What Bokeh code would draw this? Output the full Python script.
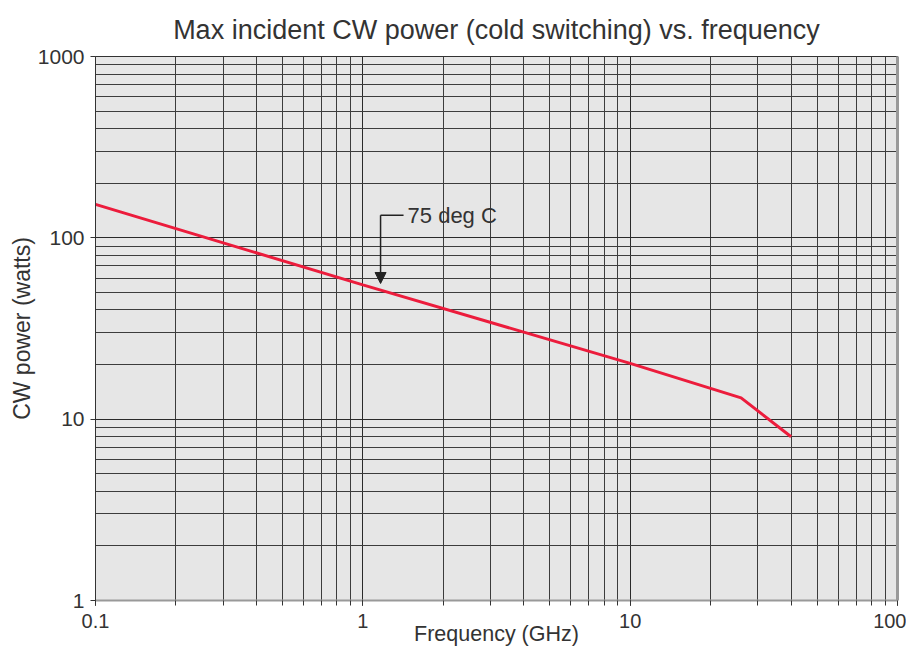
from bokeh.plotting import figure
from bokeh.models import Range1d, Label, Arrow, NormalHead, LogAxis, FixedTicker
from bokeh.embed import file_html
from bokeh.resources import INLINE

# Data
freq_ghz = [0.1, 1, 10, 26, 40]
power_w = [153, 55, 20.3, 13.1, 8.0]

title_text = "Max incident CW power (cold switching) vs. frequency"
x_label = "Frequency (GHz)"
y_label = "CW power (watts)"
annot_text = "75 deg C"

# annotation anchor positions (data units)
arrow_x = 1.165
arrow_top = 133
arrow_tip = 56
annot_line_end = 1.42
annot_text_x = 1.47

FONT = "Liberation Sans"
TXT = "#333333"

p = figure(width=906, height=650, x_axis_type="log", y_axis_type="log",
           x_range=Range1d(0.1, 100), y_range=Range1d(1, 1000),
           output_backend="svg", toolbar_location=None,
           min_border_left=95, min_border_right=9, min_border_top=56, min_border_bottom=50,
           background_fill_color="#e6e6e6", border_fill_color="white",
           title=title_text)

p.title.align = "center"
p.title.vertical_align = "top"
p.title.text_font = FONT
p.title.text_font_size = "27px"
p.title.text_font_style = "normal"
p.title.text_color = TXT
p.title.standoff = 20

p.outline_line_color = "#333333"
p.outline_line_width = 1

# grids
for g in (p.xgrid, p.ygrid):
    g.grid_line_color = "#2a2a2a"
    g.grid_line_width = 1
    g.minor_grid_line_color = "#3c3c3c"
    g.minor_grid_line_width = 1

# x axis
xa = p.xaxis[0]
xa.axis_line_color = "#999999"
xa.axis_line_width = 2
xa.major_tick_line_color = "#333333"
xa.minor_tick_line_color = "#333333"
xa.major_tick_out = 5
xa.major_tick_in = 0
xa.minor_tick_out = 5
xa.minor_tick_in = 0
xa.major_label_standoff = 8
xa.major_label_text_font = FONT
xa.major_label_text_font_size = "20px"
xa.major_label_text_color = TXT
xa.major_label_overrides = {0.1: "0.1", 1: "1", 10: "10", 100: "100"}
xa.axis_label = x_label
xa.axis_label_text_font = FONT
xa.axis_label_text_font_size = "21.5px"
xa.axis_label_text_font_style = "normal"
xa.axis_label_text_color = TXT
xa.axis_label_standoff = -9

# y axis
ya = p.yaxis[0]
ya.axis_line_color = "#333333"
ya.axis_line_width = 1
ya.major_tick_line_color = "#333333"
ya.minor_tick_line_color = None
ya.major_tick_out = 5
ya.major_tick_in = 0
ya.major_label_standoff = 6
ya.major_label_text_font = FONT
ya.major_label_text_font_size = "21px"
ya.major_label_text_color = TXT
ya.major_label_overrides = {1: "1", 10: "10", 100: "100", 1000: "1000"}
ya.axis_label = y_label
ya.axis_label_text_font = FONT
ya.axis_label_text_font_size = "23px"
ya.axis_label_text_font_style = "normal"
ya.axis_label_text_color = TXT
ya.axis_label_standoff = 0

# right border as a gray axis line
ra = LogAxis(ticker=FixedTicker(ticks=[]), axis_line_color="#999999", axis_line_width=3,
             major_tick_line_color=None, minor_tick_line_color=None)
p.add_layout(ra, "right")

# data line
p.line(freq_ghz, power_w, line_color="#ec1c3c", line_width=3)

# annotation
p.line([arrow_x, annot_line_end], [arrow_top, arrow_top], line_color="#222222", line_width=1.5)
p.add_layout(Arrow(x_start=arrow_x, y_start=arrow_top, x_end=arrow_x, y_end=arrow_tip,
                   line_color="#222222", line_width=1.5,
                   end=NormalHead(size=11, fill_color="#222222", line_color="#222222")))
p.add_layout(Label(x=annot_text_x, y=arrow_top, text=annot_text, text_baseline="middle",
                   text_font=FONT, text_font_size="22px", text_color=TXT))

open("out.html", "w").write(file_html(p, INLINE))
